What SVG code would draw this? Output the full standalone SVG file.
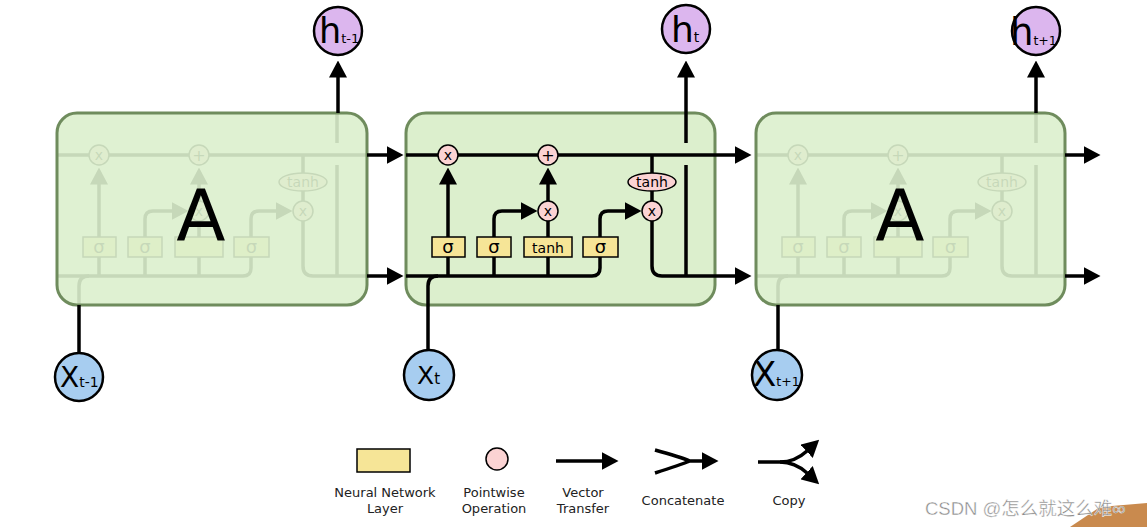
<svg xmlns="http://www.w3.org/2000/svg" xmlns:xlink="http://www.w3.org/1999/xlink" width="1147" height="527" viewBox="0 0 1147 527">
<style>
.ln{fill:none;stroke:#000;stroke-width:3.5}
.cellbox{fill:#dcefcd;stroke:#6f8c5d;stroke-width:3}
.overlay{fill:#dcefcd;fill-opacity:0.9;stroke:#6f8c5d;stroke-width:3}
.pw{fill:#fbd3d3;stroke:#000;stroke-width:1.5}
.nn{fill:#f6e597;stroke:#000;stroke-width:1.5}
.t{font-family:"DejaVu Sans","Liberation Sans",sans-serif;fill:#000}
.hc{fill:#dcb6ee;stroke:#000;stroke-width:2.5}
.xc{fill:#a7cdf0;stroke:#000;stroke-width:2.5}
.lg{font-family:"DejaVu Sans","Liberation Sans",sans-serif;font-size:13px;fill:#222;text-anchor:middle}
</style>
<defs>
<marker id="ah" markerUnits="userSpaceOnUse" markerWidth="17" markerHeight="18" viewBox="0 0 17 18" refX="0.5" refY="9" orient="auto">
<path d="M0,0 L17,9 L0,18 z" fill="#000"/>
</marker>
<g id="internals">
<path class="ln" d="M406,155 H715"/>
<path class="ln" d="M406,276 H592 Q600,276 600,268 V257"/>
<path class="ln" d="M428,305 V286 Q428,276 438,276"/>
<path class="ln" d="M448,276 V257 M494,276 V257 M548,276 V257"/>
<path class="ln" d="M448,237 V184" marker-end="url(#ah)"/>
<path class="ln" d="M494,237 V219 Q494,211 502,211 H521" marker-end="url(#ah)"/>
<path class="ln" d="M548,237 V221"/>
<path class="ln" d="M548,201 V184" marker-end="url(#ah)"/>
<path class="ln" d="M600,237 V219 Q600,211 608,211 H625" marker-end="url(#ah)"/>
<path class="ln" d="M652,155 V174 M652,190 V201"/>
<path class="ln" d="M652,221 V266 Q652,276 662,276 H715"/>
<path class="ln" d="M686,276 V165 M686,143 V113"/>
<circle class="pw" cx="448" cy="155" r="10"/>
<circle class="pw" cx="548" cy="155" r="10"/>
<circle class="pw" cx="548" cy="211" r="10"/>
<circle class="pw" cx="652" cy="211" r="10"/>
<ellipse class="pw" cx="652" cy="182" rx="24" ry="9"/>
<rect class="nn" x="432" y="237" width="33" height="20"/>
<rect class="nn" x="477" y="237" width="34" height="20"/>
<rect class="nn" x="524" y="237" width="48" height="20"/>
<rect class="nn" x="583" y="237" width="35" height="20"/>
<g class="t" text-anchor="middle">
<text x="448" y="160" font-size="14">x</text>
<text x="548" y="160.5" font-size="16">+</text>
<text x="548" y="216" font-size="14">x</text>
<text x="652" y="216" font-size="14">x</text>
<text x="652" y="187" font-size="14">tanh</text>
<text x="448" y="253" font-size="18">σ</text>
<text x="494" y="253" font-size="18">σ</text>
<text x="600.5" y="253" font-size="18">σ</text>
</g>
</g>
</defs>

<g id="cell-left">
<use xlink:href="#internals" href="#internals" transform="translate(-349,0)"/>
<rect class="overlay" x="57" y="113" width="310" height="192" rx="20"/>
<text class="t" x="201" y="240" font-size="72" text-anchor="middle">A</text>
</g>

<g id="cell-mid">
<rect class="cellbox" x="406" y="113" width="309" height="192" rx="20"/>
<use xlink:href="#internals" href="#internals"/>
<text class="t" x="548" y="253" font-size="14" text-anchor="middle">tanh</text>
</g>

<g id="cell-right">
<use xlink:href="#internals" href="#internals" transform="translate(350,0)"/>
<rect class="overlay" x="756" y="113" width="309" height="192" rx="20"/>
<text class="t" x="900" y="240" font-size="72" text-anchor="middle">A</text>
</g>

<g id="connectors">
<path class="ln" d="M338,113 V77" marker-end="url(#ah)"/>
<path class="ln" d="M686,113 V77" marker-end="url(#ah)"/>
<path class="ln" d="M1036,113 V77" marker-end="url(#ah)"/>
<path class="ln" d="M79,353 V305"/>
<path class="ln" d="M428,351 V305"/>
<path class="ln" d="M778,350 V305"/>
<path class="ln" d="M367,155 H387" marker-end="url(#ah)"/>
<path class="ln" d="M367,276 H387" marker-end="url(#ah)"/>
<path class="ln" d="M715,155 H735" marker-end="url(#ah)"/>
<path class="ln" d="M715,276 H735" marker-end="url(#ah)"/>
<path class="ln" d="M1065,155 H1084" marker-end="url(#ah)"/>
<path class="ln" d="M1065,276 H1084" marker-end="url(#ah)"/>
</g>

<g id="h-prev">
<circle class="hc" cx="338" cy="31" r="24"/>
<text class="t" x="319" y="43"><tspan font-size="35">h</tspan><tspan font-size="13">t-1</tspan></text>
</g>
<g id="h-cur">
<circle class="hc" cx="686" cy="29" r="24"/>
<text class="t" x="671" y="42"><tspan font-size="36">h</tspan><tspan font-size="14">t</tspan></text>
</g>
<g id="h-next">
<circle class="hc" cx="1036" cy="31" r="24"/>
<text class="t" x="1010" y="45"><tspan font-size="37">h</tspan><tspan font-size="12.5">t+1</tspan></text>
</g>

<g id="x-prev">
<circle class="xc" cx="79" cy="377" r="24"/>
<text class="t" x="60" y="387"><tspan font-size="28">X</tspan><tspan font-size="14">t-1</tspan></text>
</g>
<g id="x-cur">
<circle class="xc" cx="429" cy="375" r="25"/>
<text class="t" x="417" y="384"><tspan font-size="25">X</tspan><tspan font-size="15">t</tspan></text>
</g>
<g id="x-next">
<circle class="xc" cx="777" cy="375" r="25"/>
<text class="t" x="753" y="386"><tspan font-size="34">X</tspan><tspan font-size="12.5">t+1</tspan></text>
</g>

<g id="legend">
<rect class="nn" x="357" y="449" width="53" height="23"/>
<text class="lg" x="385" y="497">Neural Network</text>
<text class="lg" x="385" y="513">Layer</text>
<circle class="pw" cx="497" cy="459" r="11"/>
<text class="lg" x="494" y="497">Pointwise</text>
<text class="lg" x="494" y="513">Operation</text>
<path class="ln" d="M556,461 H602" marker-end="url(#ah)"/>
<text class="lg" x="583" y="497">Vector</text>
<text class="lg" x="583" y="513">Transfer</text>
<path class="ln" d="M655,450 Q680,457 690,461 M655,473 Q680,465 690,461 M688,461 H702" marker-end="url(#ah)"/>
<text class="lg" x="683" y="505">Concatenate</text>
<path class="ln" d="M758,462 H780 Q795,462 807,451" marker-end="url(#ah)"/>
<path class="ln" d="M780,462 Q795,462 807,473" marker-end="url(#ah)"/>
<text class="lg" x="789" y="505">Copy</text>
</g>

<g id="watermark">
<polygon points="1070,527 1100,507 1147,503 1147,527" fill="#c98a4e"/>
<text x="925" y="515" font-family="'Liberation Sans','Noto Sans CJK SC',sans-serif" font-size="18.5" fill="#8a8a8a" stroke="#fff" stroke-width="0.4">CSDN @怎么就这么难∞</text>
</g>
</svg>
